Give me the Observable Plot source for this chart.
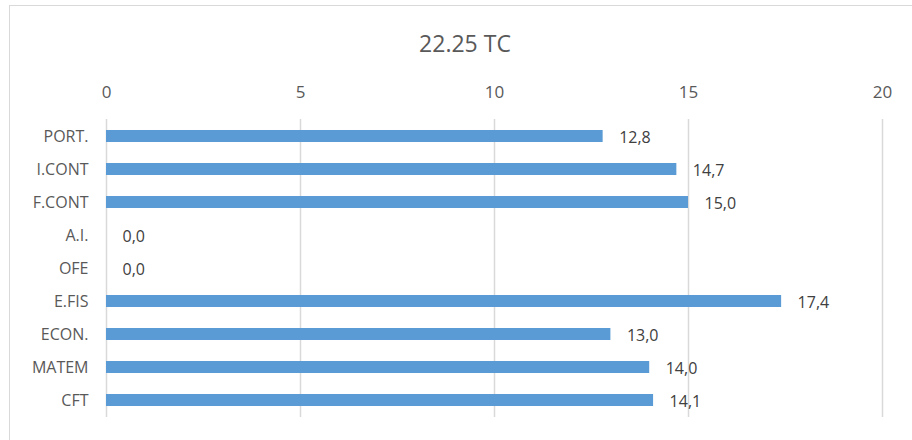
<!DOCTYPE html>
<html>
<head>
<meta charset="utf-8">
<script src="https://cdn.jsdelivr.net/npm/d3@7"></script>
<script src="https://cdn.jsdelivr.net/npm/@observablehq/plot@0.6"></script>
<style>
  html, body { margin: 0; padding: 0; background: #fff; overflow: hidden; }
  #wrap { position: relative; width: 912px; height: 440px; font-family: "Open Sans", sans-serif; }
  #frame { position: absolute; left: 9px; top: 5px; width: 920px; height: 460px; border: 1.5px solid #d9d9d9; box-sizing: border-box; }
  #title { position: absolute; left: 0; width: 930px; top: 27px; text-align: center; font-size: 23px; color: #595959; }
  #chart { position: absolute; left: 0; top: 0; }
</style>
</head>
<body>
<div id="wrap">
  <div id="frame"></div>
  <div id="title">22.25 TC</div>
  <div id="chart"></div>
</div>
<script>
const categories = ["PORT.", "I.CONT", "F.CONT", "A.I.", "OFE", "E.FIS", "ECON.", "MATEM", "CFT"];
const values = [12.8, 14.7, 15.0, 0.0, 0.0, 17.4, 13.0, 14.0, 14.1];
const xTicks = [0, 5, 10, 15, 20];

const data = categories.map((c, i) => ({cat: c, val: values[i]}));
const fmt = v => v.toFixed(1).replace(".", ",");

const chart = Plot.plot({
  width: 912,
  height: 440,
  marginLeft: 106,
  marginRight: 30,
  marginTop: 119,
  marginBottom: 23,
  style: {fontFamily: "Open Sans, sans-serif", background: "transparent", overflow: "visible"},
  x: {domain: [0, 20], ticks: xTicks, axis: null},
  y: {domain: categories, paddingInner: 0.64, paddingOuter: 0.32, axis: null},
  marks: [
    Plot.ruleX(xTicks, {stroke: "#d9d9d9", strokeWidth: 1.5}),
    Plot.barX(data, {x: "val", y: "cat", fill: "#5b9bd5"}),
    Plot.text(data, {x: "val", y: "cat", text: d => fmt(d.val), textAnchor: "start", dx: 16, dy: 1, fontSize: 16, fill: "#404040"}),
    Plot.axisY({tickSize: 0, tickPadding: 18, fontSize: 16, color: "#595959", label: null}),
    Plot.axisX({anchor: "top", ticks: xTicks, tickSize: 0, tickPadding: 22, fontSize: 17, color: "#595959", label: null, tickFormat: d => String(d)})
  ]
});
document.getElementById("chart").appendChild(chart);
</script>
</body>
</html>
